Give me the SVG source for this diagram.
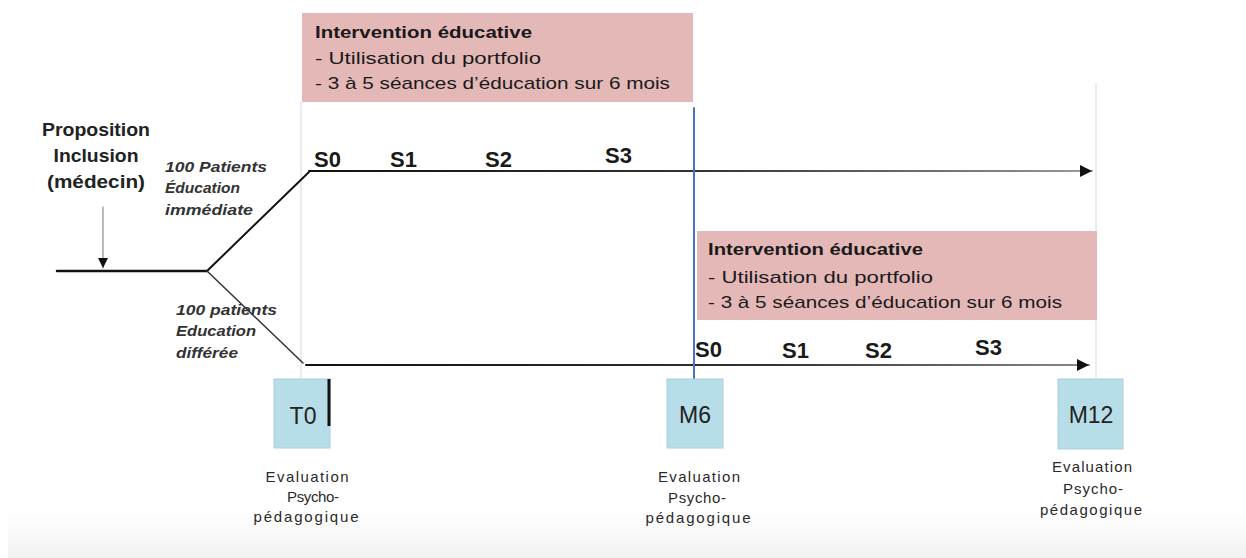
<svg xmlns="http://www.w3.org/2000/svg" width="1246" height="558" viewBox="0 0 1246 558">
<style>
  text { font-family: "Liberation Sans", Arial, sans-serif; fill: #1a1a1a; }
  .hdr { font-size: 17px; font-weight: bold; }
  .ln { font-size: 17px; }
  .s { font-size: 22px; font-weight: bold; }
  .it { font-size: 14px; font-weight: bold; font-style: italic; fill: #333; }
  .prop { font-size: 18px; font-weight: bold; text-anchor: middle; fill: #222; }
  .tm { font-size: 23px; text-anchor: middle; fill: #222; }
  .ev { font-size: 15px; text-anchor: middle; fill: #2a2a2a; }
  .pink { fill: #e5b8b8; }
  .tbox { fill: #b7dde8; stroke: #a8d0dc; stroke-width: 1; }
  .faint { stroke: #dde7ef; stroke-width: 1.5; fill: none; }
</style>
<defs>
  <linearGradient id="bg" x1="0" y1="0" x2="0" y2="1">
    <stop offset="0" stop-color="#fefefe"/>
    <stop offset="1" stop-color="#f2f2f2"/>
  </linearGradient>
  <linearGradient id="ltop" gradientUnits="userSpaceOnUse" x1="310" y1="0" x2="1090" y2="0">
    <stop offset="0" stop-color="#111"/>
    <stop offset="0.5" stop-color="#333"/>
    <stop offset="1" stop-color="#999"/>
  </linearGradient>
  <linearGradient id="lbot" gradientUnits="userSpaceOnUse" x1="305" y1="0" x2="1085" y2="0">
    <stop offset="0" stop-color="#111"/>
    <stop offset="0.6" stop-color="#333"/>
    <stop offset="1" stop-color="#888"/>
  </linearGradient>
  <marker id="tri" viewBox="0 0 10 10" refX="10" refY="5" markerWidth="10" markerHeight="10" markerUnits="userSpaceOnUse" orient="auto">
    <path d="M0,0 L10,5 L0,10 z" fill="#111"/>
  </marker>
  <marker id="tri2" viewBox="0 0 10 10" refX="10" refY="5" markerWidth="12" markerHeight="12" markerUnits="userSpaceOnUse" orient="auto">
    <path d="M0,0 L10,5 L0,10 z" fill="#111"/>
  </marker>
</defs>

<rect x="0" y="0" width="1246" height="558" fill="#ffffff"/>
<rect x="8" y="513" width="1238" height="45" fill="url(#bg)"/>

<!-- faint guide lines -->
<g id="guides">
  <line class="faint" x1="301" y1="102" x2="301" y2="379"/>
  <line class="faint" x1="1096" y1="83" x2="1096" y2="379"/>
</g>

<!-- intervention boxes -->
<g id="intervention1">
  <rect class="pink" x="302" y="13" width="391" height="89"/>
  <text class="hdr" x="315" y="38" textLength="217" lengthAdjust="spacingAndGlyphs">Intervention éducative</text>
  <text class="ln" x="315" y="64" textLength="226" lengthAdjust="spacingAndGlyphs">- Utilisation du portfolio</text>
  <text class="ln" x="315" y="89" textLength="355" lengthAdjust="spacingAndGlyphs">- 3 à 5 séances d’éducation sur 6 mois</text>
</g>
<g id="intervention2">
  <rect class="pink" x="697" y="231" width="400" height="89"/>
  <text class="hdr" x="708" y="255" textLength="215" lengthAdjust="spacingAndGlyphs">Intervention éducative</text>
  <text class="ln" x="708" y="283" textLength="225" lengthAdjust="spacingAndGlyphs">- Utilisation du portfolio</text>
  <text class="ln" x="708" y="308" textLength="354" lengthAdjust="spacingAndGlyphs">- 3 à 5 séances d’éducation sur 6 mois</text>
</g>

<!-- connectors -->
<g id="connectors" fill="none" stroke-linecap="round">
  <line x1="103" y1="207" x2="103" y2="268" stroke="#777" stroke-width="1" marker-end="url(#tri)"/>
  <line x1="57" y1="271" x2="207" y2="271" stroke="#111" stroke-width="2.5"/>
  <polyline points="207,271 309,172" stroke="#111" stroke-width="2"/>
  <line x1="309" y1="171" x2="1092" y2="171" stroke="url(#ltop)" stroke-width="2" marker-end="url(#tri2)"/>
  <polyline points="207,271 303,363" stroke="#333" stroke-width="1.5"/>
  <line x1="306" y1="365" x2="1089" y2="365" stroke="url(#lbot)" stroke-width="2" marker-end="url(#tri2)"/>
  <line x1="694" y1="108" x2="694" y2="379" stroke="#4472c4" stroke-width="2"/>
</g>

<!-- left labels -->
<g id="proposition">
  <text class="prop" x="96" y="136" textLength="108" lengthAdjust="spacingAndGlyphs">Proposition</text>
  <text class="prop" x="96" y="162" textLength="85" lengthAdjust="spacingAndGlyphs">Inclusion</text>
  <text class="prop" x="96" y="188" textLength="98" lengthAdjust="spacingAndGlyphs">(médecin)</text>
</g>
<g id="branch-immediate">
  <text class="it" x="165" y="172" textLength="102" lengthAdjust="spacingAndGlyphs">100 Patients</text>
  <text class="it" x="165" y="193" textLength="75" lengthAdjust="spacingAndGlyphs">Éducation</text>
  <text class="it" x="165" y="215" textLength="88" lengthAdjust="spacingAndGlyphs">immédiate</text>
</g>
<g id="branch-differee">
  <text class="it" x="176" y="315" textLength="101" lengthAdjust="spacingAndGlyphs">100 patients</text>
  <text class="it" x="176" y="336" textLength="80" lengthAdjust="spacingAndGlyphs">Education</text>
  <text class="it" x="176" y="358" textLength="62" lengthAdjust="spacingAndGlyphs">différée</text>
</g>

<!-- sessions -->
<g id="sessions-top">
  <text class="s" x="314" y="167">S0</text>
  <text class="s" x="390" y="167">S1</text>
  <text class="s" x="485" y="167">S2</text>
  <text class="s" x="605" y="163">S3</text>
</g>
<g id="sessions-bottom">
  <text class="s" x="695" y="357">S0</text>
  <text class="s" x="782" y="358">S1</text>
  <text class="s" x="865" y="358">S2</text>
  <text class="s" x="975" y="355">S3</text>
</g>

<!-- time points -->
<g id="T0">
  <rect class="tbox" x="274" y="379" width="56" height="69"/>
  <line x1="329" y1="379" x2="329" y2="426" stroke="#111" stroke-width="3"/>
  <text class="tm" x="303" y="424">T0</text>
  <text class="ev" x="307" y="482" textLength="83" lengthAdjust="spacing">Evaluation</text>
  <text class="ev" x="313" y="502" textLength="52" lengthAdjust="spacing">Psycho-</text>
  <text class="ev" x="306" y="522" textLength="105" lengthAdjust="spacing">pédagogique</text>
</g>
<g id="M6">
  <rect class="tbox" x="667" y="379" width="56" height="69"/>
  <text class="tm" x="695" y="423">M6</text>
  <text class="ev" x="699" y="482" textLength="82" lengthAdjust="spacing">Evaluation</text>
  <text class="ev" x="697" y="503" textLength="58" lengthAdjust="spacing">Psycho-</text>
  <text class="ev" x="698" y="523" textLength="105" lengthAdjust="spacing">pédagogique</text>
</g>
<g id="M12">
  <rect class="tbox" x="1058" y="379" width="65" height="70"/>
  <text class="tm" x="1091" y="423">M12</text>
  <text class="ev" x="1092" y="472" textLength="80" lengthAdjust="spacing">Evaluation</text>
  <text class="ev" x="1093" y="494" textLength="60" lengthAdjust="spacing">Psycho-</text>
  <text class="ev" x="1091" y="515" textLength="102" lengthAdjust="spacing">pédagogique</text>
</g>
</svg>
